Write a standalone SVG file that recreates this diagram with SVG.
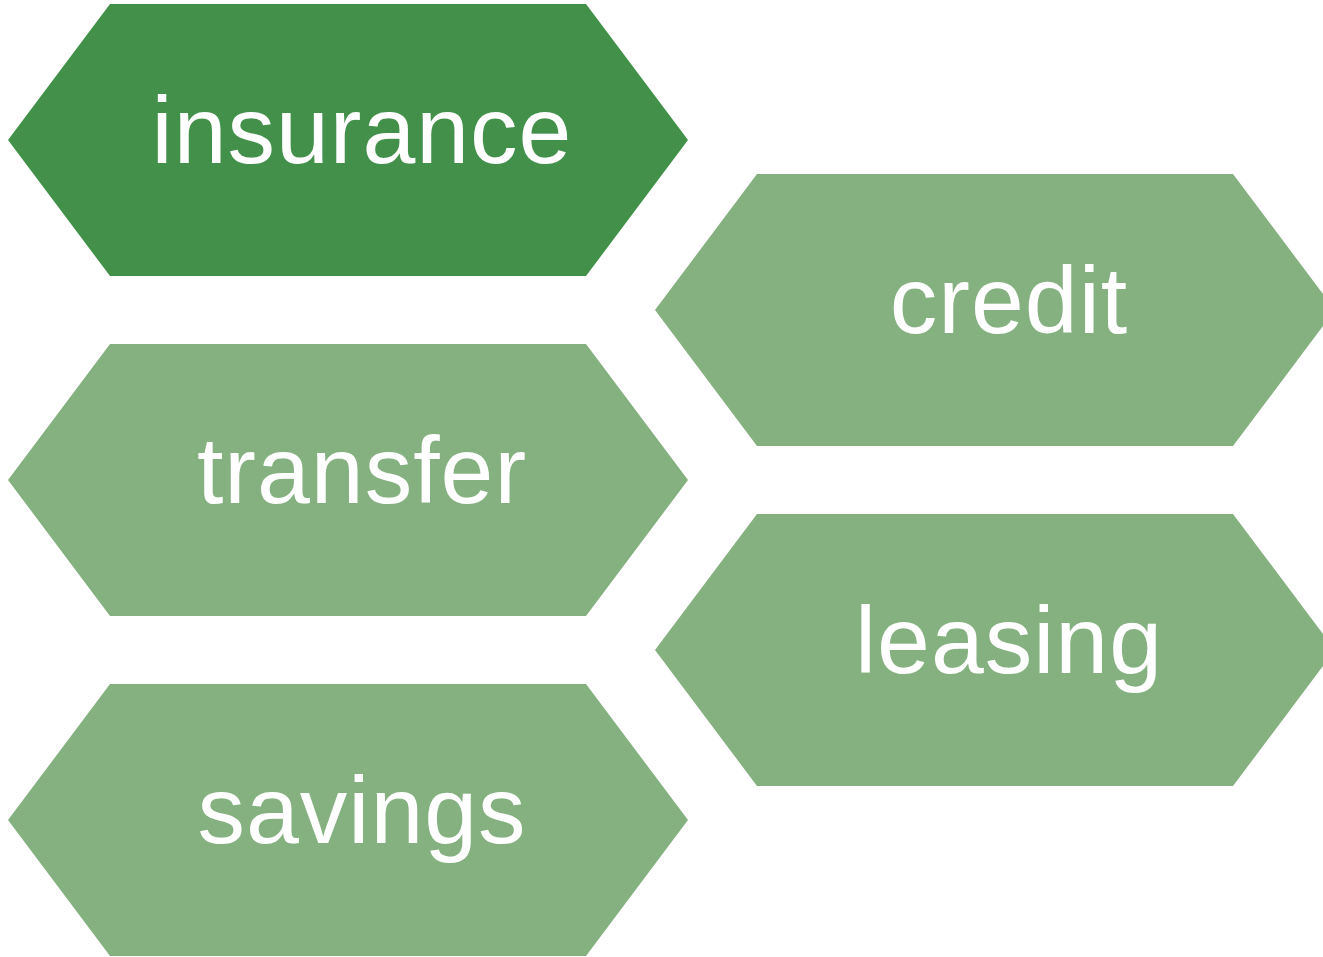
<svg xmlns="http://www.w3.org/2000/svg" width="1323" height="957" viewBox="0 0 1323 957">
<style>
.hex{fill:#85B07F}
.hex.dark{fill:#42904A}
.lbl{font-family:"Liberation Sans",Arial,sans-serif;font-size:95px;fill:#ffffff;text-anchor:middle;letter-spacing:1px}
</style>
<defs>
<polygon id="h" points="0,136 102,0 578,0 680,136 578,272 102,272"/>
</defs>
<rect width="1323" height="957" fill="#ffffff"/>
<g id="connectors"></g>
<g id="insurance" transform="translate(8,4)">
<use href="#h" class="hex dark"/>
<text class="lbl" x="354" y="159">insurance</text>
</g>
<g id="credit" transform="translate(655,174)">
<use href="#h" class="hex"/>
<text class="lbl" x="354" y="159">credit</text>
</g>
<g id="transfer" transform="translate(8,344)">
<use href="#h" class="hex"/>
<text class="lbl" x="354" y="159">transfer</text>
</g>
<g id="leasing" transform="translate(655,514)">
<use href="#h" class="hex"/>
<text class="lbl" x="354" y="159">leasing</text>
</g>
<g id="savings" transform="translate(8,684)">
<use href="#h" class="hex"/>
<text class="lbl" x="354" y="159">savings</text>
</g>
</svg>
